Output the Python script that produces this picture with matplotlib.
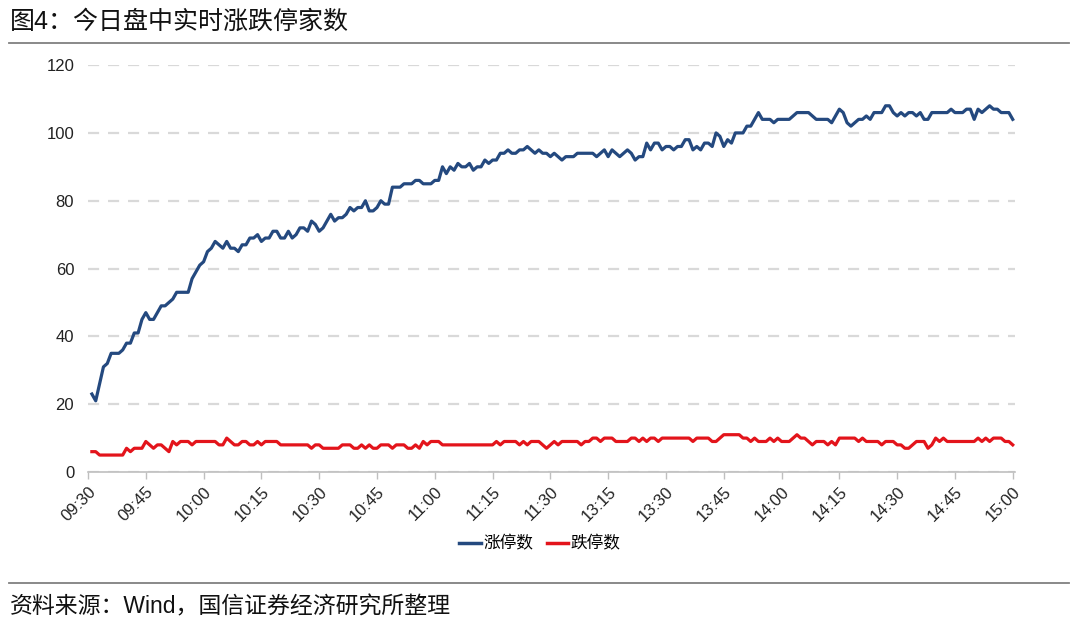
import matplotlib
matplotlib.use("Agg")
import matplotlib.pyplot as plt
from matplotlib.lines import Line2D

plt.rcParams['font.family'] = ['Liberation Sans', 'Noto Sans CJK SC', 'DejaVu Sans']

# trading minutes since 09:30 (lunch break removed), 1..240
tick_labels = ['09:30', '09:45', '10:00', '10:15', '10:30', '10:45', '11:00', '11:15',
               '11:30', '13:15', '13:30', '13:45', '14:00', '14:15', '14:30', '14:45', '15:00']

limit_up = [
    23, 21, 26, 31, 32, 35, 35, 35, 36, 38, 38, 41, 41, 45, 47, 45, 45, 47, 49, 49,
    50, 51, 53, 53, 53, 53, 57, 59, 61, 62, 65, 66, 68, 67, 66, 68, 66, 66, 65, 67,
    67, 69, 69, 70, 68, 69, 69, 71, 71, 69, 69, 71, 69, 70, 72, 72, 71, 74, 73, 71,
    72, 74, 76, 74, 75, 75, 76, 78, 77, 78, 78, 80, 77, 77, 78, 80, 79, 79, 84, 84,
    84, 85, 85, 85, 86, 86, 85, 85, 85, 86, 86, 90, 88, 90, 89, 91, 90, 90, 91, 89,
    90, 90, 92, 91, 92, 92, 94, 94, 95, 94, 94, 95, 95, 96, 95, 94, 95, 94, 94, 93,
    94, 93, 92, 93, 93, 93, 94, 94, 94, 94, 94, 93, 94, 95, 93, 95, 94, 93, 94, 95,
    94, 92, 93, 93, 97, 95, 97, 97, 95, 96, 96, 95, 96, 96, 98, 98, 95, 96, 95, 97,
    97, 96, 100, 99, 96, 98, 97, 100, 100, 100, 102, 102, 104, 106, 104, 104, 104, 103, 104, 104,
    104, 104, 105, 106, 106, 106, 106, 105, 104, 104, 104, 104, 103, 105, 107, 106, 103, 102, 103, 104,
    104, 105, 104, 106, 106, 106, 108, 108, 106, 105, 106, 105, 106, 106, 105, 106, 104, 104, 106, 106,
    106, 106, 106, 107, 106, 106, 106, 107, 107, 104, 107, 106, 107, 108, 107, 107, 106, 106, 106, 104,
]

limit_down = [
    6, 6, 5, 5, 5, 5, 5, 5, 5, 7, 6, 7, 7, 7, 9, 8, 7, 8, 8, 7,
    6, 9, 8, 9, 9, 9, 8, 9, 9, 9, 9, 9, 9, 8, 8, 10, 9, 8, 8, 9,
    9, 8, 8, 9, 8, 9, 9, 9, 9, 8, 8, 8, 8, 8, 8, 8, 8, 7, 8, 8,
    7, 7, 7, 7, 7, 8, 8, 8, 7, 7, 8, 7, 8, 7, 7, 8, 8, 8, 7, 8,
    8, 8, 7, 7, 8, 7, 9, 8, 9, 9, 9, 8, 8, 8, 8, 8, 8, 8, 8, 8,
    8, 8, 8, 8, 8, 9, 8, 9, 9, 9, 9, 8, 9, 8, 9, 9, 9, 8, 7, 8,
    9, 8, 9, 9, 9, 9, 9, 8, 9, 9, 10, 10, 9, 10, 10, 10, 9, 9, 9, 9,
    10, 10, 9, 10, 9, 10, 10, 9, 10, 10, 10, 10, 10, 10, 10, 10, 9, 10, 10, 10,
    10, 9, 9, 10, 11, 11, 11, 11, 11, 10, 10, 9, 10, 9, 9, 9, 10, 9, 10, 9,
    9, 9, 10, 11, 10, 10, 9, 8, 9, 9, 9, 8, 9, 8, 10, 10, 10, 10, 10, 9,
    10, 9, 9, 9, 9, 8, 9, 9, 9, 8, 8, 7, 7, 8, 9, 9, 9, 7, 8, 10,
    9, 10, 9, 9, 9, 9, 9, 9, 9, 9, 10, 9, 10, 9, 10, 10, 10, 9, 9, 8,
]

minutes = list(range(1, len(limit_up) + 1))
tick_pos = list(range(0, 241, 15))

blue = '#24497f'
red = '#e3141b'

fig = plt.figure(figsize=(10.8, 6.26), dpi=100)
ax = fig.add_axes([0.0815, 0.246, 0.858, 0.650])

ax.plot(minutes, limit_up, color=blue, lw=2.3, solid_joinstyle='round')
ax.plot(minutes, limit_down[:len(minutes)], color=red, lw=2.3, solid_joinstyle='round')

ax.set_xlim(0, 240.5)
ax.set_ylim(0, 120)
ax.set_yticks(range(0, 121, 20))
ax.yaxis.grid(True, color='#d9d9d9', lw=1.6, linestyle=(0, (5, 4)))
ax.set_axisbelow(True)
ax.set_xticks(tick_pos)
ax.set_xticklabels(tick_labels, rotation=45, ha='right', va='top', rotation_mode='anchor')
for s in ['top', 'right', 'left']:
    ax.spines[s].set_visible(False)
ax.spines['bottom'].set_color('#bfbfbf')
ax.spines['bottom'].set_linewidth(1.2)
ax.tick_params(axis='y', length=0, labelsize=12, pad=10, labelcolor='#222222')
ax.tick_params(axis='x', length=5, width=1.0, color='#bfbfbf', labelsize=12, pad=4,
               labelcolor='#222222')

handles = [Line2D([], [], color=blue, lw=2.5), Line2D([], [], color=red, lw=2.5)]
fig.legend(handles, ['涨停数', '跌停数'], loc='center', bbox_to_anchor=(0.5, 0.132),
           ncol=2, frameon=False, fontsize=12, handlelength=1.3, handletextpad=0.15,
           columnspacing=0.8)

fig.text(0.009, 0.965, '图4：今日盘中实时涨跌停家数', fontsize=18, va='center', ha='left',
         color='#111111')
fig.add_artist(Line2D([0.008, 0.99], [0.931, 0.931], color='#808080', lw=1.3,
                      transform=fig.transFigure))
fig.add_artist(Line2D([0.008, 0.99], [0.069, 0.069], color='#808080', lw=1.3,
                      transform=fig.transFigure))
fig.text(0.009, 0.030, '资料来源：Wind，国信证券经济研究所整理', fontsize=16.5, va='center',
         ha='left', color='#111111')

fig.savefig('out.png', dpi=100)
